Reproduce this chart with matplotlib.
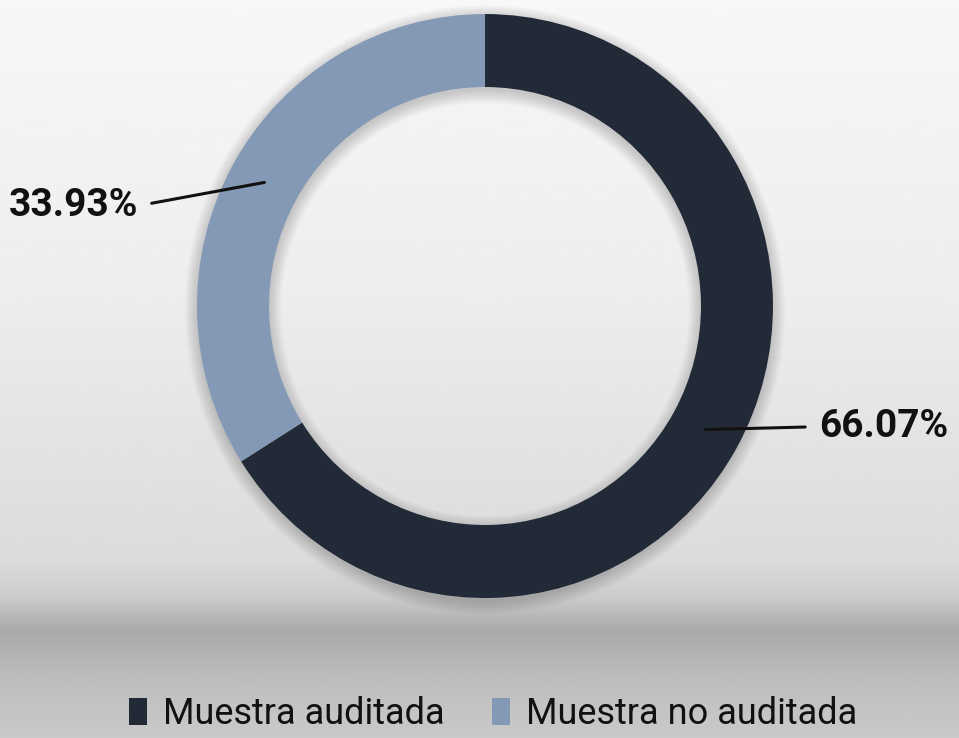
import matplotlib.pyplot as plt
import numpy as np
from matplotlib.patches import Patch, Wedge

categorias = ['Muestra auditada', 'Muestra no auditada']
porcentajes = [66.07, 33.93]
etiquetas = ['66.07%', '33.93%']
colores = ['#222a37', '#8399b5']

plt.rcParams['font.family'] = ['Roboto', 'DejaVu Sans']

fig = plt.figure(figsize=(9.59, 7.38), dpi=100)

# fondo degradado
bg = fig.add_axes([0, 0, 1, 1])
ys = np.linspace(0, 1, 400)
stops_y = [0.0, 0.40, 0.76, 0.81, 0.855, 0.92, 1.0]
stops_v = [0.97, 0.93, 0.86, 0.80, 0.665, 0.74, 0.79]
grad = np.interp(ys, stops_y, stops_v)[:, None]
bg.imshow(np.repeat(grad, 2, axis=1), cmap='gray', vmin=0, vmax=1, aspect='auto', extent=[0, 1, 1, 0])
bg.axis('off')

ax = fig.add_axes([0.2054, 0.1897, 0.6006, 0.7913])

# sombra suave
for i in range(8):
    ax.add_patch(Wedge((0.0, -0.012), 1.0 + 0.006 * i, 0, 360, width=0.25 + 0.012 * i,
                       facecolor='black', alpha=0.025, linewidth=0, clip_on=False))

wedges, _ = ax.pie(porcentajes, colors=colores, startangle=90, counterclock=False,
                   radius=1, wedgeprops=dict(width=0.25, linewidth=0))
ax.set_aspect('auto')
ax.set_xlim(-1, 1)
ax.set_ylim(-1, 1)
ax.axis('off')

for w, txt in zip(wedges, etiquetas):
    ang = np.deg2rad((w.theta1 + w.theta2) / 2)
    x0, y0 = 0.875 * np.cos(ang), 0.875 * np.sin(ang)
    if x0 > 0:
        xt, yt, ha, rel = 1.16, y0 + 0.01, 'left', (0, 0.5)
    else:
        xt, yt, ha, rel = -1.205, y0 - 0.08, 'right', (1, 0.5)
    ax.annotate(txt, xy=(x0, y0), xytext=(xt, yt), ha=ha, va='center',
                fontsize=28, fontweight='bold', color='#111111',
                arrowprops=dict(arrowstyle='-', color='#111111', lw=2.2,
                                relpos=rel, shrinkA=8, shrinkB=0),
                annotation_clip=False)

handles = [Patch(facecolor=c, edgecolor='none') for c in colores]
fig.legend(handles, categorias, loc='lower center', ncol=2, frameon=False,
           bbox_to_anchor=(0.514, -0.036), fontsize=26, handlelength=0.5,
           handleheight=0.8, handletextpad=0.45, columnspacing=1.3,
           labelcolor='#111111')

fig.savefig('out.png', dpi=100)
